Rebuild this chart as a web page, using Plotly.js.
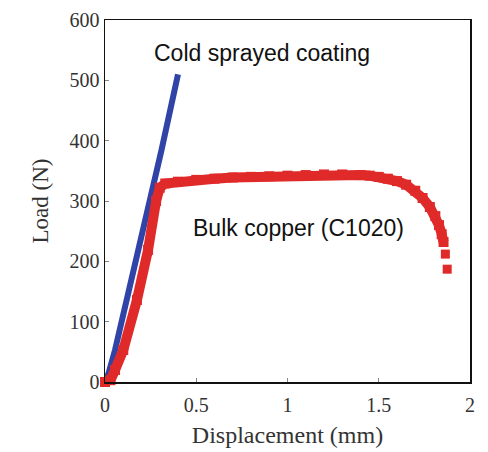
<!DOCTYPE html>
<html>
<head>
<meta charset="utf-8">
<script src="https://cdn.plot.ly/plotly-3.0.1.min.js"></script>
<style>html,body{margin:0;padding:0;background:#fff;}#chart{width:488px;height:452px;}</style>
</head>
<body>
<div id="chart"></div>
<script>
// Cold sprayed coating
const coatingX = [0, 0.02, 0.055, 0.1, 0.2, 0.31, 0.4];
const coatingY = [0, 15, 53, 110, 245, 385, 510];
// Bulk copper (C1020)
const bulkX = [0, 0.03, 0.055, 0.1, 0.175, 0.236, 0.28, 0.3, 0.33, 0.4, 0.5, 0.6, 0.7, 0.8, 0.9, 1.0, 1.1, 1.2, 1.3, 1.4, 1.45, 1.5, 1.55, 1.6, 1.65, 1.7, 1.74, 1.78, 1.81, 1.83, 1.845, 1.855];
const bulkY = [0, 3, 20, 53, 136, 219, 300, 322, 329, 332, 335, 337, 339, 340, 341, 342, 343, 344, 344, 343, 342, 340, 337, 333, 327, 317, 305, 290, 275, 260, 245, 232];
// last separated points
const tailX = [1.865, 1.875];
const tailY = [212, 187];

const xTicks = [0, 0.5, 1, 1.5, 2];
const xTickText = ['0', '0.5', '1', '1.5', '2'];
const yTicks = [0, 100, 200, 300, 400, 500, 600];

const red = '#e02a2a';
const blue = '#3044a8';

const traces = [
  {x: coatingX, y: coatingY, mode: 'lines', line: {color: blue, width: 6}, hoverinfo: 'skip'},
  {x: bulkX, y: bulkY, mode: 'lines+markers', line: {color: red, width: 10},
   marker: {symbol: 'square', size: 10, color: red}, cliponaxis: false, hoverinfo: 'skip'},
  {x: tailX, y: tailY, mode: 'markers', marker: {symbol: 'square', size: 9, color: red}, hoverinfo: 'skip'}
];

const serif = '"Liberation Serif", "Times New Roman", serif';
const sans = '"Liberation Sans", Arial, Helvetica, sans-serif';
const tickFont = {family: serif, size: 20, color: '#333'};
const layout = {
  width: 488, height: 452,
  margin: {l: 105, r: 18, t: 20, b: 70},
  showlegend: false,
  paper_bgcolor: '#fff', plot_bgcolor: '#fff',
  xaxis: {
    range: [0, 2], tickvals: xTicks, ticktext: xTickText,
    ticks: 'inside', ticklen: 4, tickcolor: '#888', tickwidth: 1,
    ticklabelstandoff: 4,
    showline: true, linecolor: '#111', linewidth: 1.5, mirror: true,
    showgrid: false, zeroline: false, tickfont: tickFont,
    title: {text: 'Displacement (mm)', font: {family: serif, size: 24, color: '#333'}, standoff: 11}
  },
  yaxis: {
    range: [0, 600], tickvals: yTicks,
    ticks: 'inside', ticklen: 4, tickcolor: '#888', tickwidth: 1,
    showline: true, linecolor: '#111', linewidth: 1.5, mirror: true,
    showgrid: false, zeroline: false, tickfont: tickFont,
    title: {text: 'Load (N)', font: {family: serif, size: 23, color: '#333'}, standoff: 14}
  },
  annotations: [
    {x: 0.86, y: 545, xref: 'x', yref: 'y', text: 'Cold sprayed coating', showarrow: false,
     font: {family: sans, size: 23, color: '#111'}},
    {x: 1.06, y: 255, xref: 'x', yref: 'y', text: 'Bulk copper (C1020)', showarrow: false,
     font: {family: sans, size: 23, color: '#111'}}
  ]
};

Plotly.newPlot('chart', traces, layout, {staticPlot: true, displayModeBar: false});
</script>
</body>
</html>
